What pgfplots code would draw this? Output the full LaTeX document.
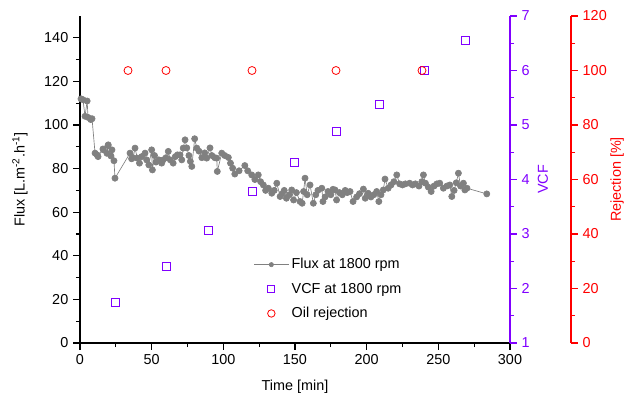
\documentclass[border=0pt]{standalone}
\usepackage{pgfplots}
\pgfplotsset{compat=1.18}
\usepackage{fontspec}
\setmainfont{Liberation Sans}
\definecolor{vcf}{RGB}{128,0,255}
\definecolor{rej}{RGB}{255,0,0}
\definecolor{flux}{RGB}{128,128,128}
\pgfplotsset{
  fluxleg/.style={legend image code/.code={\draw[##1, mark=none] (0pt,0pt) -- (26pt,0pt); \draw[##1, mark size=1.6pt] plot[only marks] coordinates {(13pt,0pt)};}},
  markleg/.style={legend image code/.code={\draw[##1] plot coordinates {(13pt,0pt)};}},
}
\pgfplotstableread{
x y
0.7 112
2.1 111.6
3.5 104
5.0 111
5.6 103.5
7.5 102.5
8.4 102.9
10.5 87.1
11.9 86.3
12.6 85.5
16.0 89
16.3 88.6
18.8 87
19.5 90.5
19.7 90.9
21.6 85.8
22.3 88.6
23.7 83.6
24.4 75.6
34.9 87.1
36 84.5
37 85
38.4 89.4
40 84.8
41.5 82.5
43 85.5
45.4 87.1
46.5 84
48 81.7
50 88.6
50.5 79.4
52 86
53 83
55 84
57 82.5
58 84
60 85
61.6 87.9
63 84
65 82.5
66.5 85.5
68 86.3
69.8 86.3
71 84
72 89.4
73.3 93.2
74.5 89.5
76 86
77 83.3
78 81
80 93.7
81.5 89.4
83 88
85 85
87 87.2
88.4 84.8
90.7 89.5
92 86
94 85
95.4 84.8
95.8 78.7
98.9 87.1
101 86
103.5 85.1
105 82.5
106.5 80.2
108 77.5
111 79
115 81.4
117 79
119.8 77.1
122 75
124.4 77.1
126 74
127.9 72.5
129.5 70
131.4 71
133.8 68.7
135.5 70
137.3 73.3
139.6 67.2
141 68.5
142.5 70
144 66.4
146 68
147.7 70.2
149 65.6
151 69
153.5 64.9
155 64.1
156 69.5
157 75.6
158.5 68
160.5 72.5
162.8 64.1
164.5 68
166 70
168.7 71
169.5 64.9
171 67
173 69.5
175 68
176.5 70.5
178 70.2
179 65.6
181 69
183 68
185 70
186.5 69
188.4 69.5
190.5 64.9
193 67
195 68.5
197.7 70.6
199 66.4
201 68.7
203 67
205 68
207 69.5
208.5 64.9
210 68
211.6 70.2
212.8 75.2
215 71
217 72.5
219 74
221 77.1
223 73
225 72.5
227 73
230 73.3
232 72.5
234 73
236.5 72
238.5 74
239.6 77.1
241 73.3
243 71.5
245 69.5
247 72
249 73
251 73.3
253.5 71
256 72
258 72.5
259.4 67.2
261 70
262.5 73.5
264 77.9
265.5 72
267.5 73.3
268.5 70.2
270 71
283.8 68.4
}\fluxdata
\pgfplotstableread{
x y
24.4 1.75
60 2.41
89.3 3.06
120 3.78
149.3 4.32
178.6 4.88
208.6 5.38
240 6.0
268.7 6.55
}\vcfdata
\pgfplotstableread{
x y
33.5 100
60 100
120 100
178.6 100
238.6 100
}\rejdata
\begin{document}
\fontsize{10.8pt}{13pt}\selectfont
\begin{tikzpicture}
\useasboundingbox (-60pt,-40.7pt) rectangle (408.75pt,257.25pt);
\pgfplotsset{
  common/.style={
    at={(0pt,0pt)}, anchor=south west,
    scale only axis, width=322.5pt, height=245.25pt,
    xmin=0, xmax=300,
    tick align=outside, major tick length=5pt, minor tick length=3pt,
    /pgf/number format/assume math mode=true,
    ticklabel style={font=\fontsize{10.8pt}{13pt}\selectfont},
    label style={font=\fontsize{10.8pt}{13pt}\selectfont},
  }
}
\begin{axis}[common, name=main,
  ymin=0, ymax=150,
  axis x line*=bottom, axis y line*=left,
  axis line style={-, line width=0.9pt, black},
  xtick={0,50,...,300}, ytick={0,20,...,140},
  minor x tick num=1, minor y tick num=1,
  every tick/.style={black, line width=0.9pt},
  xlabel={Time [min]},
  xlabel style={at={(axis description cs:0.5,-0.135)}, anchor=center},
  ylabel={Flux [L.m\textsuperscript{-2}.h\textsuperscript{-1}]},
  ylabel style={at={(axis description cs:-0.1395,0.5)}, anchor=center},
  legend style={draw=none, fill=none, at={(0.394,0.276)}, anchor=north west,
    row sep=5pt, font=\fontsize{10.8pt}{13pt}\selectfont},
  legend cell align=left,
]
\addplot[flux, line width=0.5pt, mark=*, mark size=2.3pt, mark options={fill=flux, draw=flux}, fluxleg]
  table[x=x,y=y] {\fluxdata};
\addlegendentry{Flux at 1800 rpm}
\addlegendimage{only marks, mark=square, mark size=2.6pt, vcf, line width=0.6pt, markleg}
\addlegendentry{VCF at 1800 rpm}
\addlegendimage{only marks, mark=o, mark size=2.8pt, rej, line width=0.6pt, markleg}
\addlegendentry{Oil rejection}
\end{axis}
\begin{axis}[common,
  ymin=1, ymax=7,
  hide x axis,
  axis y line*=right,
  y axis line style={-, line width=0.9pt, vcf},
  ytick={1,...,7}, minor y tick num=1,
  every tick/.style={vcf, line width=0.9pt},
  yticklabel style={text=vcf},
  ylabel={VCF}, ylabel style={text=vcf, at={(axis description cs:1.0767,0.5)}, anchor=center},
]
\addplot[only marks, mark=square, mark size=3pt, color=vcf, line width=0.6pt] table[x=x,y=y] {\vcfdata};
\end{axis}
\begin{axis}[common,
  ymin=0, ymax=120,
  hide x axis,
  axis y line*=right,
  axis y line shift=45.75pt,
  y axis line style={-, line width=0.9pt, rej},
  ytick={0,20,...,120}, minor y tick num=1,
  every tick/.style={rej, line width=0.9pt},
  yticklabel style={text=rej},
  ylabel={Rejection [\%]}, ylabel style={text=rej, at={(axis description cs:1.249,0.5)}, anchor=center},
]
\addplot[only marks, mark=o, mark size=3pt, color=rej, line width=0.6pt] table[x=x,y=y] {\rejdata};
\end{axis}
\end{tikzpicture}
\end{document}
